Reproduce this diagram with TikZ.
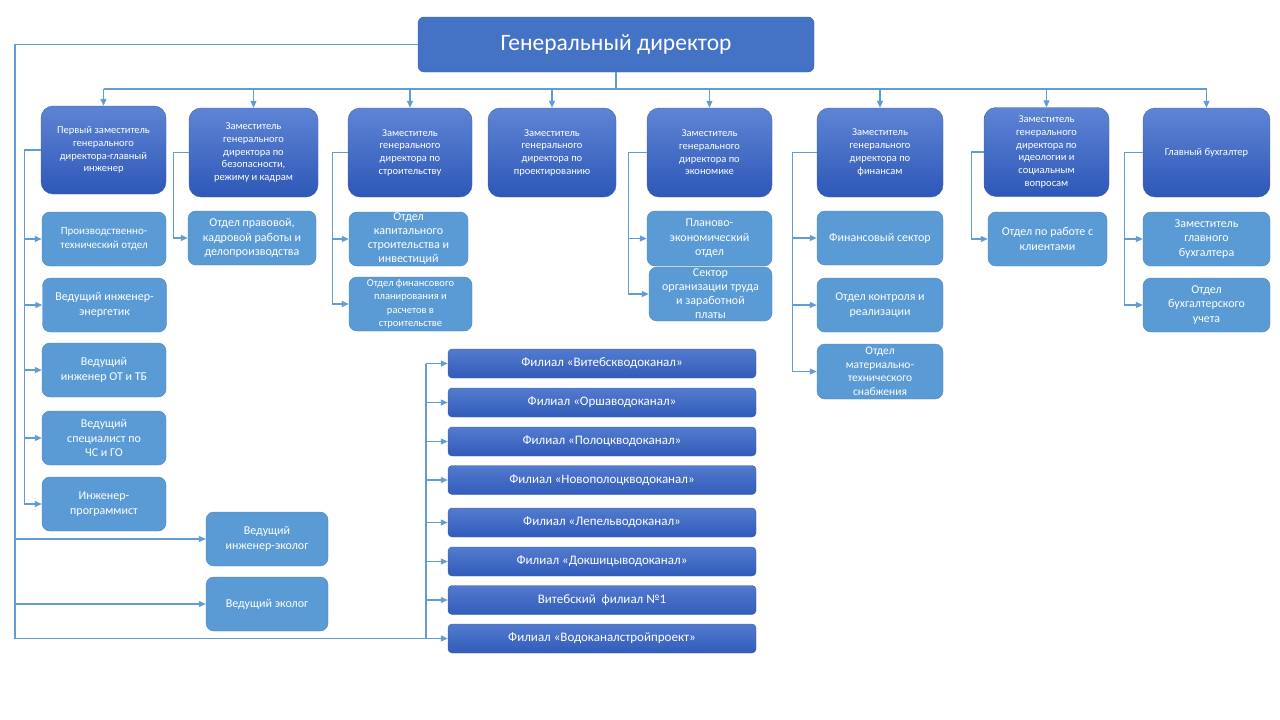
\documentclass[tikz,border=0pt]{standalone}
\usepackage{fontspec}
\setmainfont{Carlito}
\usepackage{tikz}
\usetikzlibrary{arrows.meta}
\usepackage{xcolor}
\definecolor{gdfill}{RGB}{68,114,196}
\definecolor{gdline}{RGB}{58,96,170}
\definecolor{deptop}{RGB}{94,132,212}
\definecolor{depbottom}{RGB}{46,88,184}
\definecolor{unitfill}{RGB}{91,155,213}
\definecolor{unitline}{RGB}{72,130,190}
\definecolor{filtop}{RGB}{82,122,206}
\definecolor{filbottom}{RGB}{50,92,186}
\definecolor{linkcol}{RGB}{98,156,212}
\newcommand{\widthdep}{126pt}
\newcommand{\widthunit}{124pt}
\newcommand{\widthfil}{308pt}
\tikzset{
    common/.style={draw, align=center, text=white, inner sep=1pt},
    director/.style={common, draw=gdline, fill=gdfill, rounded corners=6pt, minimum width=396pt, minimum height=55pt, font=\fontsize{23.5}{27}\selectfont},
    deputy/.style={common, draw=gdline, top color=deptop, bottom color=depbottom, rounded corners=12pt, minimum width=\widthdep, minimum height=89pt, font=\fontsize{10.5}{12.7}\selectfont},
    unit/.style={common, draw=unitline, fill=unitfill, rounded corners=8pt, minimum width=\widthunit, minimum height=54pt, font=\fontsize{12}{14.5}\selectfont},
    small/.style={font=\fontsize{11}{13.5}\selectfont},
    filial/.style={common, draw=gdline, top color=filtop, bottom color=filbottom, rounded corners=4pt, minimum width=\widthfil, minimum height=29pt, font=\fontsize{13}{15}\selectfont},
    link/.style={draw=linkcol, line width=1.2pt},
    arr/.style={link, -{Triangle[length=7pt, width=6pt]}},
}
\begin{document}
\begin{tikzpicture}[x=1pt, y=-1pt]
    \useasboundingbox (0,0) rectangle (1280,720);

    \node[director] (gd) at (616,44.5) {Генеральный директор};

    \node[deputy, minimum height=88pt, minimum width=125pt] (z1) at (103.5,150) {Первый заместитель\\генерального\\директора-главный\\инженер};
    \node[deputy, minimum width=129pt] (z2) at (253.5,152.5) {Заместитель\\генерального\\директора по\\безопасности,\\режиму и кадрам};
    \node[deputy, minimum width=124pt] (z3) at (410,152.5) {Заместитель\\генерального\\директора по\\строительству};
    \node[deputy, minimum width=128pt] (z4) at (552,152.5) {Заместитель\\генерального\\директора по\\проектированию};
    \node[deputy, minimum width=125pt] (z5) at (709.5,152.5) {Заместитель\\генерального\\директора по\\экономике};
    \node[deputy] (z6) at (880,152.5) {Заместитель\\генерального\\директора по\\финансам};
    \node[deputy, minimum width=125pt] (z7) at (1046.5,152) {Заместитель\\генерального\\директора по\\идеологии и\\социальным\\вопросам};
    \node[deputy, minimum width=127pt] (z8) at (1206.5,152.5) {Главный бухгалтер};

    \node[unit, small] (s11) at (104,239) {Производственно-\\технический отдел};
    \node[unit] (s12) at (104.5,305) {Ведущий инженер-\\энергетик};
    \node[unit] (s13) at (104,370) {Ведущий\\инженер ОТ и ТБ};
    \node[unit] (s14) at (104,438) {Ведущий\\специалист по\\ЧС и ГО};
    \node[unit] (s15) at (104,504) {Инженер-\\программист};
    \node[unit, minimum width=122pt] (eco1) at (267,539) {Ведущий\\инженер-эколог};
    \node[unit, minimum width=122pt] (eco2) at (267,604) {Ведущий эколог};

    \node[unit, minimum width=128pt] (s21) at (252,238) {Отдел правовой,\\кадровой работы и\\делопроизводства};
    \node[unit, minimum width=119pt, font=\fontsize{12}{14}\selectfont] (s31) at (408.5,239) {Отдел\\капитального\\строительства и\\инвестиций};
    \node[unit, minimum width=123pt, font=\fontsize{10.5}{13.5}\selectfont] (s32) at (410.5,304) {Отдел финансового\\планирования и\\расчетов в\\строительстве};
    \node[unit, minimum width=125pt, minimum height=55pt] (s51) at (709.5,238.5) {Планово-\\экономический\\отдел};
    \node[unit, minimum width=123pt, font=\fontsize{12}{14}\selectfont] (s52) at (710.5,294) {Сектор\\организации труда\\и заработной\\платы};
    \node[unit, minimum width=126pt] (s61) at (880,238) {Финансовый сектор};
    \node[unit, minimum width=126pt] (s62) at (880,305) {Отдел контроля и\\реализации};
    \node[unit, minimum width=126pt, minimum height=55pt, font=\fontsize{11.5}{13.5}\selectfont] (s63) at (880,371.5) {Отдел\\материально-\\технического\\снабжения};
    \node[unit, minimum width=119pt] (s71) at (1047.5,239) {Отдел по работе с\\клиентами};
    \node[unit, minimum width=127pt] (s81) at (1206.5,239) {Заместитель\\главного\\бухгалтера};
    \node[unit, minimum width=127pt] (s82) at (1206.5,305) {Отдел\\бухгалтерского\\учета};

    \node[filial] (f1) at (602,363.5) {Филиал «Витебскводоканал»};
    \node[filial] (f2) at (602,402.5) {Филиал «Оршаводоканал»};
    \node[filial] (f3) at (602,441.5) {Филиал «Полоцкводоканал»};
    \node[filial] (f4) at (602,480) {Филиал «Новополоцкводоканал»};
    \node[filial] (f5) at (602,522.5) {Филиал «Лепельводоканал»};
    \node[filial] (f6) at (602,561.5) {Филиал «Докшицыводоканал»};
    \node[filial] (f7) at (602,600) {Витебский~ филиал №1};
    \node[filial] (f8) at (602,638.5) {Филиал «Водоканалстройпроект»};

    \coordinate (bus) at (616,89);
    \coordinate (trunk-bottom) at (15,638.5);
    \coordinate (fil-bus) at (426,363.5);

    \draw[link] (gd.south) -- (bus);
    \draw[link] (bus -| z1.north) -- (bus -| z8.north);
    \draw[arr] (bus -| z1.north) -- (z1.north);
    \draw[arr] (bus -| z2.north) -- (z2.north);
    \draw[arr] (bus -| z3.north) -- (z3.north);
    \draw[arr] (bus -| z4.north) -- (z4.north);
    \draw[arr] (bus -| z5.north) -- (z5.north);
    \draw[arr] (bus -| z6.north) -- (z6.north);
    \draw[arr] (bus -| z7.north) -- (z7.north);
    \draw[arr] (bus -| z8.north) -- (z8.north);

    \draw[arr] (gd.west) -| (trunk-bottom) -- (f8.west);
    \draw[arr] (trunk-bottom |- eco1.west) -- (eco1.west);
    \draw[arr] (trunk-bottom |- eco2.west) -- (eco2.west);

    \draw[link] (fil-bus) -- (fil-bus |- f8.west);
    \draw[arr] (fil-bus |- f1.west) -- (f1.west);
    \draw[arr] (fil-bus |- f2.west) -- (f2.west);
    \draw[arr] (fil-bus |- f3.west) -- (f3.west);
    \draw[arr] (fil-bus |- f4.west) -- (f4.west);
    \draw[arr] (fil-bus |- f5.west) -- (f5.west);
    \draw[arr] (fil-bus |- f6.west) -- (f6.west);
    \draw[arr] (fil-bus |- f7.west) -- (f7.west);

    \draw[arr] (z1.west) -- ++(-16,0) |- (s11.west);
    \draw[arr] (z1.west) -- ++(-16,0) |- (s12.west);
    \draw[arr] (z1.west) -- ++(-16,0) |- (s13.west);
    \draw[arr] (z1.west) -- ++(-16,0) |- (s14.west);
    \draw[arr] (z1.west) -- ++(-16,0) |- (s15.west);

    \draw[arr] (z2.west) -- ++(-15,0) |- (s21.west);

    \draw[arr] (z3.west) -- ++(-15,0) |- (s31.west);
    \draw[arr] (z3.west) -- ++(-15,0) |- (s32.west);

    \draw[arr] (z5.west) -- ++(-18,0) |- (s51.west);
    \draw[arr] (z5.west) -- ++(-18,0) |- (s52.west);

    \draw[arr] (z6.west) -- ++(-24,0) |- (s61.west);
    \draw[arr] (z6.west) -- ++(-24,0) |- (s62.west);
    \draw[arr] (z6.west) -- ++(-24,0) |- (s63.west);

    \draw[arr] (z7.west) -- ++(-12,0) |- (s71.west);

    \draw[arr] (z8.west) -- ++(-18,0) |- (s81.west);
    \draw[arr] (z8.west) -- ++(-18,0) |- (s82.west);
\end{tikzpicture}
\end{document}
